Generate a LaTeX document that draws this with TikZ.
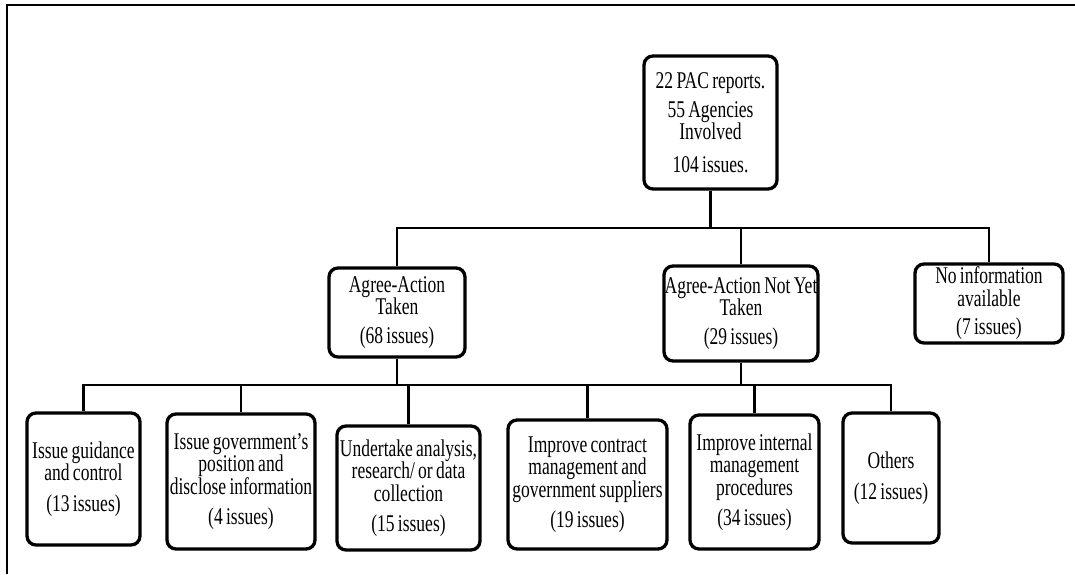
\documentclass[tikz,border=0pt]{standalone}
\usepackage{fontspec}
\setmainfont{Liberation Serif}[FakeStretch=0.73,WordSpace=0.75]
\begin{document}
\begin{tikzpicture}[x=1pt,y=-1pt,
  box/.style={draw, line width=3.3pt, rounded corners=9pt, align=center,
    inner sep=0pt, font=\fontsize{24}{22.5}\selectfont},
  link/.style={line width=2.4pt},
  frame/.style={line width=2pt}]
\useasboundingbox (0,0) rectangle (1075,574);
\fill[white] (0,0) rectangle (1075,574);
\draw[frame] (7,574) -- (7,5) -- (1075,5);

\node[box, minimum width=133pt, minimum height=133pt] (top) at (710.5,122.5)
  {22 PAC reports.\\[6pt] 55 Agencies\\ Involved\\[10pt] 104 issues.};
\node[box, minimum width=136pt, minimum height=89pt] (taken) at (397,312.5)
  {Agree-Action\\ Taken\\[6pt] (68 issues)};
\node[box, minimum width=154pt, minimum height=95pt] (notyet) at (741,313.5)
  {Agree-Action Not Yet\\ Taken\\[6pt] (29 issues)};
\node[box, minimum width=148pt, minimum height=79pt] (noinfo) at (989,303.5)
  {No information\\ available\\[6pt] (7 issues)};

\node[box, minimum width=113pt, minimum height=132pt] (c1) at (83.5,479)
  {Issue guidance\\ and control\\[8pt] (13 issues)};
\node[box, minimum width=148pt, minimum height=135pt] (c2) at (241,481.5)
  {Issue government's\\ position and\\ disclose information\\[8pt] (4 issues)};
\node[box, minimum width=143pt, minimum height=124pt] (c3) at (408.5,488)
  {Undertake analysis,\\ research/ or data\\ collection\\[8pt] (15 issues)};
\node[box, minimum width=159pt, minimum height=129pt] (c4) at (587.5,484.5)
  {Improve contract\\ management and\\ government suppliers\\[8pt] (19 issues)};
\node[box, minimum width=129pt, minimum height=134pt] (c5) at (754.5,482)
  {Improve internal\\ management\\ procedures\\[8pt] (34 issues)};
\node[box, minimum width=96pt, minimum height=130pt] (c6) at (891,478)
  {Others\\[8pt] (12 issues)};

\coordinate (t1) at (710.5,228);
\coordinate (b1) at (397,385);
\coordinate (b2) at (741,385);

\draw[link] (top.south) -- (t1);
\draw[link] (taken.north) |- (t1);
\draw[link] (notyet.north) |- (t1);
\draw[link] (noinfo.north) |- (t1);

\draw[link] (taken.south) -- (b1);
\draw[link] (notyet.south) -- (b2);
\draw[link] (b1) -- (b2);
\draw[link] (c1.north) |- (b1);
\draw[link] (c2.north) |- (b1);
\draw[link] (c3.north) |- (b1);
\draw[link] (c4.north) |- (b2);
\draw[link] (c5.north) |- (b2);
\draw[link] (c6.north) |- (b2);
\end{tikzpicture}
\end{document}
